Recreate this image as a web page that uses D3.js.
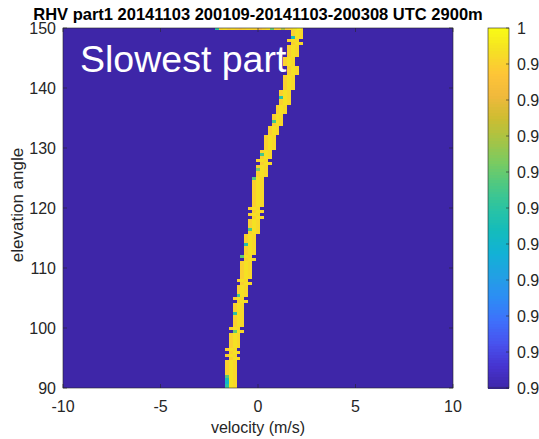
<!DOCTYPE html>
<html>
<head>
<meta charset="utf-8">
<script src="https://cdn.jsdelivr.net/npm/d3@7"></script>
<style>
  html, body { margin: 0; padding: 0; background: #fff; overflow: hidden; }
  svg { display: block; }
  text { font-family: "Liberation Sans", Arial, Helvetica, sans-serif; fill: #262626; }
</style>
</head>
<body>
<svg id="chart" width="539" height="439"></svg>
<script>
// ---- chart data ----
const titleText = "RHV part1 20141103 200109-20141103-200308 UTC 2900m";
const xLabelText = "velocity (m/s)";
const yLabelText = "elevation angle";
const noteText = "Slowest part";

const xTicks = [-10, -5, 0, 5, 10];
const yTicks = [90, 100, 110, 120, 130, 140, 150];
const cbTicks = [0.9, 0.91, 0.92, 0.93, 0.94, 0.95, 0.96, 0.97, 0.98, 0.99, 1];
const cbTickLabels = ["0.9", "0.91", "0.92", "0.93", "0.94", "0.95", "0.96", "0.97", "0.98", "0.99", "1"];

const velocityStep = 0.2;   // m/s per velocity bin
const elevationStep = 0.5;  // degrees per ray
const firstElevation = 90;

// Doppler peak position (m/s) for each ray, 90° .. 150° in 0.5° steps
const ridgeCenter = [
  -1.5, -1.45, -1.5, -1.4, -1.45, -1.4, -1.35, -1.4, -1.3, -1.3,
  -1.25, -1.3, -1.2, -1.3, -1.25, -1.2, -1.25, -1.15, -1.2, -1.1,
  -1.15, -1.05, -1.1, -1.0, -1.05, -0.95, -1.0, -0.9, -0.95, -0.85,
  -0.9, -0.8, -0.85, -0.75, -0.8, -0.7, -0.75, -0.65, -0.7, -0.6,
  -0.65, -0.55, -0.6, -0.5, -0.55, -0.45, -0.5, -0.4, -0.4, -0.35,
  -0.3, -0.3, -0.25, -0.2, -0.25, -0.15, -0.2, -0.1, -0.15, -0.1,
  -0.15, -0.05, -0.1, -0.05, -0.1, 0.0, -0.05, 0.05, 0.0, 0.1,
  0.1, 0.15, 0.2, 0.25, 0.2, 0.3, 0.25, 0.35, 0.4, 0.45,
  0.5, 0.5, 0.6, 0.65, 0.65, 0.75, 0.8, 0.85, 0.9, 0.95,
  1.05, 1.1, 1.15, 1.2, 1.25, 1.3, 1.3, 1.3, 1.35, 1.45,
  1.5, 1.5, 1.55, 1.6, 1.7, 1.75, 1.85, 1.8, 1.65, 1.7,
  1.7, 1.75, 1.75, 1.8, 1.8, 1.9, 1.85, 1.9, 1.95, 1.95,
  1.9
];

// RHV of the three bins across the peak (left, centre, right)
const ridgeValues = [0.99, 0.994, 0.992];

// rays whose left peak bin has a lower RHV: [elevation, RHV]
const edgeCells = [
  [148.5, 0.945], [138.5, 0.95], [134.5, 0.955], [129, 0.955], [126.5, 0.962],
  [125, 0.958], [116.5, 0.955], [114, 0.948], [112, 0.96], [105.5, 0.955],
  [102.5, 0.95], [99.5, 0.96], [92, 0.958], [91.5, 0.945], [91, 0.94],
  [90.5, 0.95], [90, 0.955]
];

// last ray (150°): RHV per bin starting at -2.1 m/s
const topRowStart = -2.1;
const topRowValues = [
  0.95, 0.99, 0.993, 0.99, 0.992, 0.99, 0.988, 0.99, 0.992, 0.99, 0.99,
  0.985, 0.99, 0.993, 0.96, 0.99, 0.99, 0.97, 0.99, 0.992, 0.995, 0.998
];

// parula colormap stops
const parulaStops = [
  "#3e26a8", "#4634d0", "#4852ee", "#3e70fb", "#2d8cf5", "#22a0e4",
  "#12b1d6", "#14bcbc", "#2ac3a3", "#4bc884", "#78cb62", "#a5c446",
  "#cdbd31", "#f0b93c", "#fec537", "#f5e024", "#f9fb15"
];

// ---- layout ----
const svg = d3.select("#chart");
const plot = { left: 63, right: 453, top: 28, bottom: 388 };
const cb = { left: 488, right: 509 };
const fontSize = 16;

const x = d3.scaleLinear().domain([-10, 10]).range([plot.left, plot.right]);
const y = d3.scaleLinear().domain([90, 150]).range([plot.bottom, plot.top]);
const cbY = d3.scaleLinear().domain([0.9, 1]).range([plot.bottom, plot.top]);

const parula = d3.scaleLinear()
  .domain(parulaStops.map((_, i) => i / (parulaStops.length - 1)))
  .range(parulaStops)
  .interpolate(d3.interpolateRgb)
  .clamp(true);
const color = v => parula((v - 0.9) / 0.1);

// ---- cells ----
const cells = [];
ridgeCenter.forEach((c, i) => {
  const e = firstElevation + i * elevationStep;
  const j = Math.round((c + 10) / velocityStep);
  [-1, 0, 1].forEach((d, k) => {
    cells.push({ e, v: -10 + (j + d) * velocityStep, value: ridgeValues[k] });
  });
});
edgeCells.forEach(([e, value]) => {
  const i = Math.round((e - firstElevation) / elevationStep);
  const j = Math.round((ridgeCenter[i] + 10) / velocityStep);
  cells.push({ e, v: -10 + (j - 1) * velocityStep, value });
});
topRowValues.forEach((value, k) => {
  cells.push({ e: 150, v: topRowStart + k * velocityStep, value });
});

svg.append("defs").append("clipPath").attr("id", "plotClip")
  .append("rect")
  .attr("x", plot.left).attr("y", plot.top)
  .attr("width", plot.right - plot.left).attr("height", plot.bottom - plot.top);

const g = svg.append("g").attr("clip-path", "url(#plotClip)");
g.append("rect")
  .attr("x", plot.left).attr("y", plot.top)
  .attr("width", plot.right - plot.left).attr("height", plot.bottom - plot.top)
  .attr("fill", color(0.9));

g.selectAll("rect.cell").data(cells).join("rect")
  .attr("class", "cell")
  .attr("shape-rendering", "crispEdges")
  .attr("x", d => x(d.v - velocityStep / 2))
  .attr("width", d => x(d.v + velocityStep / 2) - x(d.v - velocityStep / 2))
  .attr("y", d => y(d.e + elevationStep / 2))
  .attr("height", d => y(d.e - elevationStep / 2) - y(d.e + elevationStep / 2))
  .attr("fill", d => color(d.value));

// ---- axes (box with inward ticks) ----
const axisColor = "#262626";
const tickLen = 4;
const ax = svg.append("g");
ax.append("rect")
  .attr("x", plot.left).attr("y", plot.top)
  .attr("width", plot.right - plot.left).attr("height", plot.bottom - plot.top)
  .attr("fill", "none").attr("stroke", axisColor).attr("stroke-width", 0.6);

xTicks.forEach(t => {
  ax.append("line").attr("x1", x(t)).attr("x2", x(t))
    .attr("y1", plot.bottom).attr("y2", plot.bottom - tickLen)
    .attr("stroke", axisColor).attr("stroke-width", 0.6);
  ax.append("line").attr("x1", x(t)).attr("x2", x(t))
    .attr("y1", plot.top).attr("y2", plot.top + tickLen)
    .attr("stroke", axisColor).attr("stroke-width", 0.6);
});
yTicks.forEach(t => {
  ax.append("line").attr("x1", plot.left).attr("x2", plot.left + tickLen)
    .attr("y1", y(t)).attr("y2", y(t))
    .attr("stroke", axisColor).attr("stroke-width", 0.6);
  ax.append("line").attr("x1", plot.right).attr("x2", plot.right - tickLen)
    .attr("y1", y(t)).attr("y2", y(t))
    .attr("stroke", axisColor).attr("stroke-width", 0.6);
});

svg.append("g").selectAll("text").data(xTicks).join("text")
  .attr("x", d => x(d)).attr("y", 412)
  .attr("text-anchor", "middle").attr("font-size", fontSize)
  .text(d => d);

svg.append("g").selectAll("text").data(yTicks).join("text")
  .attr("x", plot.left - 7).attr("y", d => y(d))
  .attr("dy", "0.35em")
  .attr("text-anchor", "end").attr("font-size", fontSize)
  .text(d => d);

svg.append("text")
  .attr("x", (plot.left + plot.right) / 2).attr("y", 433)
  .attr("text-anchor", "middle").attr("font-size", fontSize)
  .text(xLabelText);

svg.append("text")
  .attr("transform", `translate(23,205) rotate(-90)`)
  .attr("text-anchor", "middle").attr("font-size", 17)
  .text(yLabelText);

svg.append("text")
  .attr("x", 258).attr("y", 20)
  .attr("text-anchor", "middle").attr("font-size", 16.5).attr("font-weight", "bold")
  .style("fill", "#000")
  .text(titleText);

svg.append("text")
  .attr("x", 80).attr("y", 72)
  .attr("font-size", 37.5)
  .style("fill", "#ffffff")
  .text(noteText);

// ---- colorbar ----
const cbSteps = d3.range(0, 128);
const cbG = svg.append("g");
cbG.selectAll("rect").data(cbSteps).join("rect")
  .attr("shape-rendering", "crispEdges")
  .attr("x", cb.left)
  .attr("width", cb.right - cb.left)
  .attr("y", i => cbY(0.9 + (i + 1) * 0.1 / 128))
  .attr("height", i => cbY(0.9 + i * 0.1 / 128) - cbY(0.9 + (i + 1) * 0.1 / 128) + 0.5)
  .attr("fill", i => color(0.9 + (i + 0.5) * 0.1 / 128));
cbG.append("rect")
  .attr("x", cb.left).attr("y", plot.top)
  .attr("width", cb.right - cb.left).attr("height", plot.bottom - plot.top)
  .attr("fill", "none").attr("stroke", axisColor).attr("stroke-width", 0.6);
cbTicks.forEach(t => {
  cbG.append("line").attr("x1", cb.right).attr("x2", cb.right - 3)
    .attr("y1", cbY(t)).attr("y2", cbY(t))
    .attr("stroke", axisColor).attr("stroke-width", 0.6);
});
cbG.selectAll("text").data(cbTicks).join("text")
  .attr("x", 517).attr("y", d => cbY(d))
  .attr("dy", "0.35em").attr("font-size", fontSize)
  .text((d, i) => cbTickLabels[i]);
</script>
</body>
</html>
